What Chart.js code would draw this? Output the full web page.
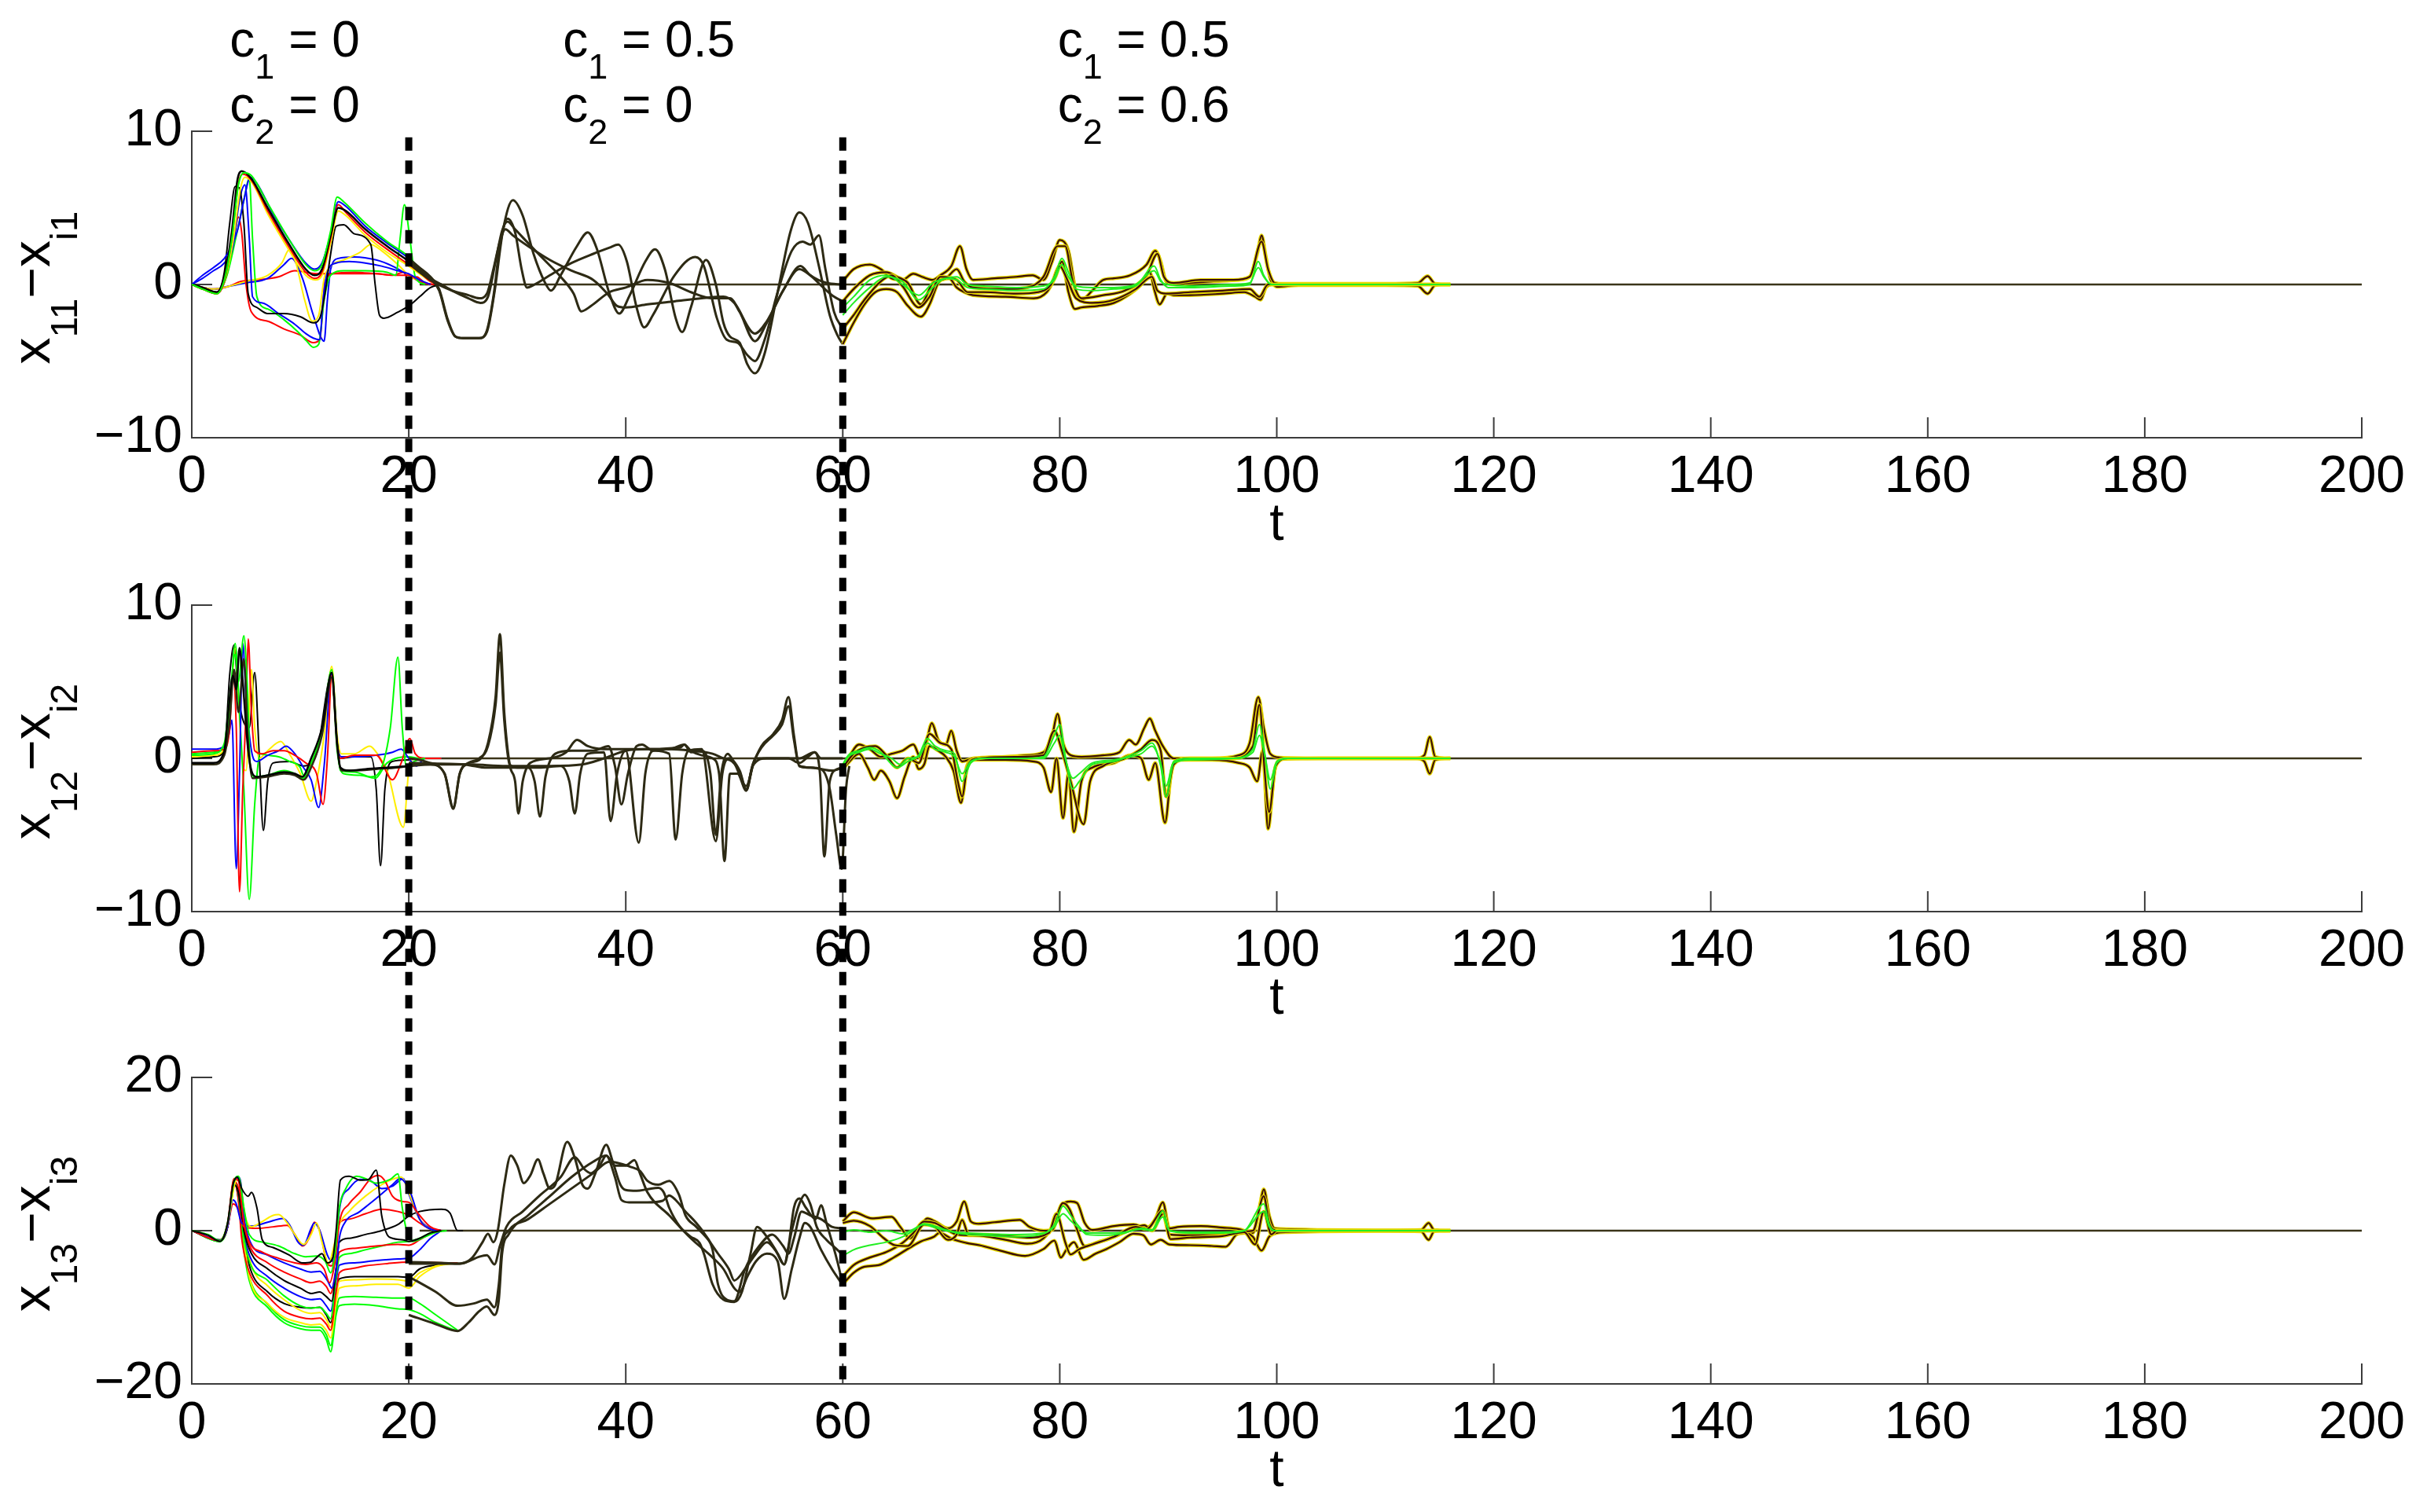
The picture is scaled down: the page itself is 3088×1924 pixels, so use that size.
<!DOCTYPE html>
<html>
<head>
<meta charset="utf-8">
<script src="https://cdn.jsdelivr.net/npm/chart.js@4.4.1/dist/chart.umd.min.js"></script>
<style>
body { margin: 0; background: #fff; }
#fig { position: relative; width: 3088px; height: 1924px; }
canvas { position: absolute; left: 0; }
</style>
</head>
<body>
<div id="fig">
  <canvas id="c1" width="3088" height="702" style="top:0px"></canvas>
  <canvas id="c2" width="3088" height="603" style="top:702px"></canvas>
  <canvas id="c3" width="3088" height="601" style="top:1305px"></canvas>
  <canvas id="overlay" width="3088" height="1924" style="top:0px"></canvas>
</div>
<script>
// ---- axes / annotations ----
const tTicks = [0, 20, 40, 60, 80, 100, 120, 140, 160, 180, 200];
const yTicks12 = [-10, 0, 10];
const yTicks3 = [-20, 0, 20];
const switchTimes = [20, 60];
const annotT = [3.5, 34.2, 79.8];
const annotC1 = ['0', '0.5', '0.5'];
const annotC2 = ['0', '0', '0.6'];
const settled = [[21, 0], [200, 0]];

// ---- x11 - xi1 : c1 = 0, c2 = 0 ----
const p1a_green = [[0,0],[1,-0.3],[2.3,-0.6],[3,0.3],[3.7,3],[4.3,6.5],[4.8,7.3],[5.5,7.1],[7,5.3],[9,2.9],[10.5,1.3],[11.3,0.9],[12,1.3],[12.8,3.5],[13.4,5.7],[14,5.4],[16,4.0],[18,2.8],[20,1.8],[21,1.0],[22,0.3],[23,0]];
const p1a_black = [[0,0],[1,-0.2],[2.3,-0.5],[3,0.5],[3.7,3.5],[4.2,6.8],[4.6,7.4],[5.5,6.9],[7,5.0],[9,2.6],[10.5,1.0],[11.3,0.6],[12,1.0],[12.8,3.2],[13.5,5.0],[14.2,4.8],[16,3.6],[18,2.5],[20,1.5],[21,0.9],[22,0.3],[23,0]];
const p1a_red = [[0,0],[1,-0.3],[2.3,-0.6],[3,0.2],[3.7,3.0],[4.3,6.6],[4.7,7.2],[5.5,6.8],[7,4.8],[9,2.4],[10.5,0.8],[11.3,0.4],[12,0.8],[12.8,3.0],[13.5,5.2],[14.2,4.7],[16,3.4],[18,2.3],[20,1.3],[21,0.8],[22,0.2],[23,0]];
const p1a_yellow = [[0,0],[1,-0.3],[2.3,-0.6],[3,0.2],[3.8,2.8],[4.5,6.3],[4.9,7.0],[5.6,6.6],[7,4.6],[9,2.2],[10.5,0.6],[11.4,0.3],[12,0.6],[12.8,2.7],[13.5,4.8],[14.2,4.5],[16,3.2],[18,2.1],[20,1.2],[21,0.7],[22,0.2],[23,0]];
const p1a_blue = [[0,0],[1,0.6],[2,1.1],[3,1.7],[3.6,2.4],[4.2,3.5],[4.8,5.5],[5.4,7.0],[6,6.6],[7.5,4.6],[9,2.9],[10.5,1.4],[11.3,1.0],[12,1.4],[12.8,3.3],[13.5,5.4],[14.2,5.1],[16,3.8],[18,2.7],[20,1.7],[21,1.0],[22,0.3],[23,0]];
const p1a_black2 = [[0,0],[1,-0.2],[2.3,-0.5],[3,0.8],[3.5,4],[4,6.4],[4.4,6.3],[4.8,4],[5.2,-0.6],[6,-1.5],[7,-1.9],[8.5,-1.9],[10,-2.1],[11.2,-2.5],[11.8,-2.2],[12.3,-0.5],[12.8,2],[13.3,3.8],[14,3.9],[15,3.3],[16.5,2.6],[16.9,0],[17.3,-2.0],[17.7,-2.2],[19,-1.8],[20,-1.4],[21,-0.8],[22,-0.2],[23,0]];
const p1a_blue2 = [[0,0],[1,0.4],[2,0.9],[3,1.4],[3.8,2.5],[4.4,5.5],[4.9,6.5],[5.3,3.0],[5.6,-0.8],[6.5,-1.2],[8,-1.9],[9.5,-2.6],[10.5,-3.2],[11.2,-3.5],[11.8,-3.6],[12.1,-1],[12.5,0.8],[13.3,1.4],[14.5,1.5],[16,1.4],[17.5,1.2],[19,0.9],[20,0.7],[21,0.3],[22,0]];
const p1a_green2 = [[0,0],[1,-0.3],[2.3,-0.6],[3.2,0.5],[4.2,3.5],[4.8,5.5],[5.3,6.9],[5.6,3],[6,-0.8],[7,-1.6],[8.5,-2.3],[9.8,-3.1],[10.6,-3.7],[11.2,-4.1],[11.7,-3.9],[12.2,-1.0],[12.8,0.6],[14,0.9],[16,0.9],[18,0.8],[18.8,0.6],[19.2,3],[19.6,5.2],[20.1,3],[20.6,0.5],[21.5,0]];
const p1a_red2 = [[0,0],[1,-0.3],[2.3,-0.6],[3.3,0.8],[3.9,3],[4.3,4.4],[4.6,3.4],[5,0],[5.5,-1.8],[7,-2.4],[8.5,-2.9],[10,-3.3],[11.2,-3.8],[11.8,-3.6],[12.3,0.2],[13,0.7],[15,0.8],[17,0.7],[19,0.6],[20,0.6],[21,0.2],[22,0]];
const p1a_yellow2 = [[0,0],[2,-0.3],[3.5,-0.1],[5,0.2],[7,0.6],[8.3,1.4],[9,2.3],[9.6,1.4],[10.4,-1.0],[11.1,-2.4],[11.7,-2.0],[12.2,0.4],[12.8,1.2],[14,1.6],[15.5,2.1],[16.5,2.6],[17.5,2.2],[19,1.3],[20,0.6],[21,0.2],[22,0]];
const p1a_blue3 = [[0,0],[2,-0.3],[3.5,-0.1],[5,0.1],[7,0.4],[8.5,1.3],[9.2,1.7],[10.2,0.4],[11.2,-2.0],[12.2,-3.7],[12.5,-1],[12.8,1.0],[13.5,1.7],[15,1.8],[17,1.6],[18.5,1.2],[20,0.6],[21,0.2],[22,0]];
const p1a_red3 = [[0,0],[2,-0.3],[3.5,-0.1],[4.5,0.2],[6,0.3],[8,0.5],[9.5,0.9],[10.5,0.8],[11.5,0.7],[13,0.7],[15,0.7],[17,0.7],[18.5,0.6],[19.5,0.8],[20,0.3],[20.7,0.5],[21.5,0.1],[22.5,0]];

// ---- x11 - xi1 : c1 = 0.5, c2 = 0 ----
const p1b_a = [[20,1.7],[21,1.1],[22,0.5],[22.8,-0.3],[23.6,-2.3],[24.3,-3.4],[25,-3.5],[26.5,-3.5],[27.2,-3.1],[27.9,-0.5],[28.7,3.6],[29.6,5.5],[30.5,4.5],[31.5,2.0],[32.5,0.2],[33.1,-0.4],[34,0.6],[35.5,2.5],[36.5,3.4],[37.3,2.4],[38.5,-0.6],[39.4,-1.9],[40.3,-0.8],[41.8,1.5],[42.7,2.3],[43.6,1.0],[44.6,-2.2],[45.2,-3.1],[46,-1.5],[47.4,1.6],[48.3,0],[49,-2.5],[49.6,-3.4],[50.5,-3.8],[51.2,-5.2],[51.9,-5.8],[52.8,-4.5],[54,-0.5],[55.2,3.5],[56,4.7],[56.8,4.0],[57.8,1.2],[58.8,-2.0],[59.5,-3.3],[60,-3.9]];
const p1b_b = [[20,1.6],[21,1.0],[22,0.4],[22.8,-0.4],[23.6,-2.4],[24.3,-3.4],[25,-3.5],[26.5,-3.5],[27.2,-3.0],[27.8,-0.8],[28.4,2.5],[29.1,4.3],[29.8,3.4],[30.4,1.0],[30.9,-0.2],[31.6,0],[33,0.6],[35,1.4],[37,2.0],[38.5,2.4],[39.3,2.6],[40.1,1.5],[41,-1.5],[41.7,-2.8],[42.5,-2.0],[44.5,0.6],[46.4,1.8],[47.2,1.2],[48.4,-2.2],[49.3,-3.6],[50.3,-3.8],[51.2,-4.6],[51.9,-5.0],[52.8,-3.6],[54,-0.5],[55.3,2.2],[56.3,2.8],[57,2.6],[57.8,3.2],[58.4,1.0],[59.2,-1.8],[60,-2.9]];
const p1b_c = [[20,1.5],[21,0.9],[22,0.4],[23,0],[24,-0.4],[25.5,-0.9],[26.6,-1.2],[27.3,-0.8],[28,1.5],[28.6,3.5],[29.1,4.1],[29.8,3.6],[31,2.7],[32.5,1.6],[34,0.5],[35.2,-0.6],[35.9,-1.75],[36.8,-1.4],[38.5,-0.5],[40,-0.2],[42,0.3],[44,0.1],[46,-0.5],[48,-0.9],[49.6,-0.9],[50.5,-1.8],[51.9,-3.7],[53,-2.5],[54.5,-0.4],[56,1.0],[57,0.6],[58.2,-0.2],[59.2,-0.8],[60,-1.1]];
const p1b_d = [[20,1.4],[21,0.8],[22,0.3],[23,-0.1],[24,-0.4],[25.5,-0.7],[26.5,-0.9],[27.2,-0.6],[27.8,1.0],[28.4,2.8],[28.9,3.6],[29.6,3.2],[31,2.5],[33,1.6],[35,0.9],[37,0.3],[38.3,-0.6],[39.2,-1.4],[40,-1.5],[42,-1.3],[44.5,-1.1],[47,-0.9],[49,-0.8],[50,-1.2],[51.9,-3.2],[53,-2.4],[54.5,-0.4],[56.1,1.2],[57,0.6],[58.5,0.1],[60,0]];

// ---- x11 - xi1 : c1 = 0.5, c2 = 0.6 ----
const p1c_up = [[60,0.2],[61,1.0],[62.5,1.3],[63.5,1.0],[64.5,0.4],[65.5,0.3],[66.5,0.7],[67.3,0.5],[68.3,0.3],[69,0.6],[70,1.2],[70.8,2.5],[71.4,1.0],[72,0.3],[74,0.4],[76,0.5],[77.5,0.6],[78.5,0.3],[79.3,1.5],[80,2.9],[80.8,2.2],[81.5,-0.5],[82,-1.0],[83,-0.4],[84,0.3],[85,0.4],[86.5,0.6],[88,1.3],[88.8,2.2],[89.3,1.5],[89.8,0.2],[90.5,0],[92,0.1],[94,0.2],[96.5,0.3],[97.5,0.5],[98.2,2.0],[98.6,3.2],[99,1.8],[99.5,0.2],[100.5,0.05],[102,0.05],[110,0.05],[113,0.1],[113.9,0.55],[114.6,0.05],[116,0]];
const p1c_low = [[60,-3.9],[61,-2.5],[62,-1.3],[63,-0.5],[64,-0.3],[65,-0.5],[66,-1.4],[67.2,-2.1],[68,-1.3],[68.9,0.2],[69.8,0.4],[70.5,-0.2],[71.2,-0.5],[72,-0.7],[75,-0.8],[77.6,-0.9],[78.8,-0.5],[79.6,0.5],[80.2,1.5],[80.8,-0.5],[81.4,-1.6],[82,-1.5],[83.5,-1.4],[85,-1.2],[86.5,-0.6],[87.5,0.0],[88.3,0.8],[88.7,-0.3],[89.2,-1.3],[89.9,-0.6],[90.5,-0.7],[92,-0.7],[95,-0.6],[97,-0.5],[98,-0.8],[98.5,-1.0],[99,-0.2],[99.6,0],[100,-0.15],[102,-0.05],[110,-0.05],[113,-0.1],[113.9,-0.6],[114.6,-0.05],[116,0]];
const p1c_m1 = [[60,-1.1],[61,-0.3],[62.5,0.6],[64,0.8],[65,0.5],[66,0.1],[67.2,-1.3],[68.3,0.1],[69.5,0.4],[70.5,1.0],[71.2,0.2],[72,-0.2],[75,-0.3],[77,-0.2],[78.5,0.5],[79.8,2.5],[80.5,2.5],[81.2,0.2],[82,-0.9],[84,-0.7],[86,-0.4],[88,0.6],[89,2.0],[89.6,0.5],[90.5,0.1],[93,0.3],[96,0.3],[97.5,0.5],[98.6,2.8],[99.2,1.0],[99.8,0.1],[101,0],[116,0]];
const p1c_m2 = [[60,-2.9],[61,-2.0],[62,-1.0],[63.5,0.2],[64.5,0.6],[65.5,-0.1],[67,-1.5],[68,-0.8],[69,0.5],[70.5,0.3],[71.5,-0.5],[73,-0.5],[76,-0.6],[78,-0.5],[79.2,0],[80,1.2],[80.7,0.3],[81.5,-0.9],[83,-1.2],[85,-1.0],[87,-0.3],[88.5,0.5],[89,-0.4],[89.8,-0.6],[92,-0.5],[95,-0.4],[97.5,-0.3],[98.4,-0.8],[99.2,0],[100,0],[116,0]];
const p1c_g1 = [[60,-2.0],[61,-1.2],[62.5,-0.2],[64,0.5],[65.5,0.2],[67,-1.0],[68.3,-0.2],[69.5,0.4],[70.5,0.3],[71.5,-0.2],[73,-0.3],[76,-0.4],[78.5,-0.3],[79.5,0.5],[80.2,1.7],[80.8,0.8],[81.5,-0.3],[83,-0.4],[85,-0.3],[87,-0.1],[88.7,1.2],[89.3,0.3],[90,-0.2],[92,-0.2],[96,-0.1],[97.5,0],[98.3,1.5],[98.8,0.6],[99.5,0],[101,0],[116,0]];
const p1c_g2 = [[60,-1.5],[61,-0.8],[62.5,0.3],[64,0.6],[65.5,0.0],[67,-0.7],[68.3,0.1],[69.5,0.4],[70.5,0.5],[71.5,0],[73,-0.1],[76,-0.2],[78.5,-0.1],[79.5,0.3],[80.2,1.3],[80.8,0.5],[81.5,-0.1],[83,-0.2],[85,-0.2],[87,0],[88.7,0.9],[89.3,0.2],[90,0],[92,-0.1],[96,0],[97.5,0.1],[98.3,1.1],[98.8,0.5],[99.5,0],[101,0],[116,0]];

// ---- x12 - xi2 : c1 = 0, c2 = 0 ----
const p2a_black = [[0,-0.3],[2,-0.3],[3,0.5],[3.4,3.3],[3.8,5.4],[4.1,4.5],[4.4,7.2],[4.7,5],[5.2,0.5],[5.6,-1.0],[6,-1.2],[7,-1.1],[8.5,-0.9],[9.5,-1.0],[10.2,-1.2],[11,0],[12,2.0],[12.9,5.6],[13.4,1],[13.7,-0.6],[14.5,-0.8],[16,-0.7],[18,-0.6],[20,-0.5]];
const p2a_black3 = [[0,-0.4],[2,-0.4],[3,0.2],[3.5,2.5],[3.9,5.8],[4.3,3],[4.8,6.5],[5.2,1],[5.6,-1.3],[7,-1.2],[8.5,-1.0],[9.5,-1.1],[10.3,-1.4],[11,-0.6],[12,1.5],[12.9,5.3],[13.4,0.8],[13.8,-0.8],[15,-0.8],[17,-0.7],[19,-0.6],[20,-0.5]];
const p2a_green = [[0,0.2],[2,0.3],[3,1.0],[3.5,4.0],[4,6.8],[4.3,5],[4.8,8.0],[5.1,5],[5.4,-0.5],[5.8,-1.2],[7,-1.1],[8.5,-0.8],[9.5,-1.0],[10.2,-1.3],[11,-0.5],[12,1.8],[12.9,5.8],[13.4,1],[13.7,-0.8],[15,-0.9],[16.5,-1.2],[17.5,-0.6],[18.3,2],[19,6.6],[19.4,2],[19.8,-0.6],[20.5,-0.2],[21.5,0]];
const p2a_red = [[0,0.4],[2,0.5],[3,0.6],[3.5,2],[3.8,5.5],[4.1,2],[4.4,-8.7],[4.7,-2],[5,3],[5.2,7.8],[5.5,3],[5.8,0.5],[6.5,0.3],[7.5,0.5],[8.5,0.5],[9.5,0.2],[10.5,-0.3],[11.5,-1.0],[12.1,-3.0],[12.5,0],[12.9,5.4],[13.4,1],[13.7,0],[15,0.2],[17,0.2],[18.5,-1.4],[19.3,-0.3],[20.1,1.3],[20.6,0.3],[21.5,0],[23,0]];
const p2a_blue = [[0,0.6],[2,0.6],[3,0.8],[3.4,1.5],[3.7,2.5],[4.1,-7.2],[4.4,-1],[4.7,7.5],[5,4],[5.5,0.5],[6,-0.2],[7,0.2],[8,0.5],[8.7,0.8],[9.5,0.3],[10.3,-0.6],[11,-1.4],[11.7,-3.2],[12.2,-0.5],[12.9,5.5],[13.4,1],[13.8,0.1],[15,0.1],[17,0.2],[18.5,0.4],[19.3,0.6],[20,0],[20.7,-0.5],[21.5,0],[23,0]];
const p2a_green2 = [[0,0.3],[2,0.4],[3,0.8],[3.5,3],[4,7.5],[4.4,3],[4.8,-2],[5.3,-9.2],[5.8,-3],[6.3,0.3],[7,0.2],[8,0.1],[9,-0.2],[10,-0.6],[10.3,-1.1],[11,-0.3],[12,1.8],[12.9,5.6],[13.4,0.5],[14,-1.0],[15.5,-1.1],[16.9,-1.3],[18,-0.3],[20,0.1],[21,0],[23,0]];
const p2a_yellow = [[0,0.1],[2,0.2],[3,0.6],[3.6,4],[4,7.2],[4.3,4],[4.6,0],[5,-0.8],[5.5,5.8],[5.8,2],[6.2,0],[7,0.5],[8.2,1.1],[9,0.3],[10,-1.0],[11,-2.8],[11.5,-1.5],[12.2,1.5],[12.9,6.0],[13.4,1.5],[13.8,0.3],[15,0.3],[16.4,0.8],[17.2,0.2],[18,-0.8],[19.5,-4.5],[20,-0.8],[20.5,0],[23,0]];
const p2a_black2 = [[0,0],[2,0.1],[3,0.5],[3.5,5.5],[3.9,7.4],[4.3,4],[5.3,2],[5.8,5.6],[6.2,0.5],[6.6,-4.7],[7,-1.5],[7.5,-0.3],[9,-0.2],[10.3,-0.5],[11.5,0.3],[12.9,5.5],[13.4,1],[13.7,0],[15,0.1],[16.5,0.1],[17,-2],[17.4,-7.0],[17.8,-2],[18.5,-0.2],[20,-0.1],[21,0],[23,0]];

// ---- x12 - xi2 : c1 = 0.5, c2 = 0 ----
const p2b_a = [[20,-0.4],[22,-0.4],[23.3,-1],[24.1,-3.3],[24.7,-1],[25.5,-0.3],[26.5,-0.1],[27.3,1],[28,4],[28.4,8.1],[28.8,3],[29.3,-0.4],[29.8,-1.5],[30.1,-3.6],[30.5,-1.5],[31.2,-0.3],[33,0],[34.5,0.4],[35.5,1.2],[36.5,0.8],[38,0.6],[40,0.6],[42,0.6],[44,0.6],[46,0.5],[48,0.3],[49,0],[49.8,-0.2],[50.5,-0.9],[51.1,-2.1],[51.7,-0.5],[52.5,0.8],[53.6,1.6],[54.4,2.5],[55,4.0],[55.5,1.5],[56,-0.5],[57,-0.6],[58,-0.7],[58.8,-2],[59.4,-5],[59.9,-7.2],[60.3,-2],[60.6,-0.5]];
const p2b_b = [[20,-0.5],[22,-0.4],[23.3,-1],[24.1,-3.2],[24.7,-1],[25.5,-0.3],[26.5,0],[27.3,0.8],[28,3.5],[28.4,6.9],[28.8,2.5],[29.3,-0.4],[30,-0.6],[31,-0.6],[31.6,-1.5],[32.1,-3.8],[32.6,-1.2],[33.5,0.3],[35,0.5],[37,0.5],[38.4,0.8],[39,-0.5],[39.6,-3],[40.2,-1],[41,0.8],[41.5,0.9],[42.5,0.5],[44,0.3],[44.6,-5.3],[45.2,-1],[45.8,0.5],[47,0.6],[48.3,-5.4],[48.9,-1],[49.5,0],[50.5,-0.8],[51.1,-2.0],[51.7,-0.4],[52.5,0.7],[53.6,1.5],[54.4,2.2],[55,3.4],[55.5,1.2],[56,-0.5],[57,-0.6],[58,-0.7],[59,-0.8],[60,-0.6]];
const p2b_c = [[20,0],[21,-0.1],[22,-0.3],[23,-0.4],[25,-0.4],[26,-0.5],[27,-0.6],[28,-0.6],[29,-0.6],[32,-0.6],[34,-0.5],[34.8,-1.5],[35.3,-3.6],[35.8,-1],[36.5,0.3],[38,0.4],[38.6,-4.1],[39.2,-1],[40,0.5],[41.2,-5.5],[41.8,-1],[42.5,0.5],[45,0.7],[45.4,0.9],[46,0.5],[47,0.2],[48,0],[48.6,-1],[49.1,-6.7],[49.6,-1],[50.3,-1.0],[51.1,-2.1],[51.7,-0.5],[53,0],[55,0],[56,-0.3],[56.8,0.1],[57.4,0.4],[57.9,-1],[58.3,-6.4],[58.8,-1.5],[59.5,-0.7],[60,-0.6]];
const p2b_d = [[20,-0.3],[26,-0.4],[29,-0.5],[33,-0.5],[36,-0.4],[38,0],[40,0.5],[42,0.6],[44,0.6],[45.4,0.9],[46,0.4],[47,0.5],[47.8,-1],[48.3,-5.0],[48.8,-1],[49.4,0.3],[50,-0.3],[51.1,-1.8],[52,0],[54,0],[56,0],[57.4,0.4],[58,0],[60,0]];

// ---- x12 - xi2 : c1 = 0.5, c2 = 0.6 ----
const p2c_up = [[60,-0.6],[60.5,0],[61.5,0.9],[62.5,0.6],[63.5,0.1],[64.5,0.3],[65.5,0.5],[66.5,0.9],[67.2,0],[67.7,1.0],[68.2,2.3],[68.8,1.2],[69.5,0.9],[70,1.8],[70.5,0.5],[71,-0.2],[72,0],[75,0.1],[77,0.2],[78.5,0.4],[79.3,1.5],[79.8,2.9],[80.3,1.0],[81,0.2],[82,0.1],[84,0.2],[85.5,0.4],[86.4,1.2],[87,0.9],[87.8,2.0],[88.3,2.6],[88.8,1.8],[89.5,0.8],[90.5,0],[94,0],[96.5,0.2],[97.5,1.0],[98.3,4.0],[98.8,2.0],[99.4,0.3],[100.3,0.05],[104,0],[112.8,0],[113.6,0.2],[114.1,1.4],[114.6,0.1],[116,0]];
const p2c_low = [[60,-0.7],[60.5,-0.3],[61.5,0.3],[62.3,-0.6],[62.9,-1.4],[63.5,-0.8],[64.3,-1.5],[65,-2.6],[65.7,-1.2],[66.5,0.1],[67,-0.7],[67.5,-0.4],[68,0.8],[68.8,0.5],[69.5,0.1],[70.2,-0.8],[70.9,-2.9],[71.4,-0.6],[72,-0.1],[75,-0.1],[77.5,-0.2],[78.5,-0.6],[79.2,-2.2],[79.7,0],[80.3,-3.9],[80.8,-1.0],[81.3,-4.8],[82,-1.5],[83,-0.6],[85,-0.3],[86.5,0.2],[87.5,0],[88.2,-1.4],[88.8,-0.3],[89.7,-4.2],[90.3,-0.8],[91,-0.1],[94,-0.1],[96.5,-0.3],[97.5,-0.6],[98.2,-1.5],[98.7,0.5],[99.2,-4.6],[99.8,-0.8],[100.5,-0.05],[104,0],[112.8,0],[113.6,-0.2],[114.1,-1.0],[114.6,-0.1],[116,0]];
const p2c_m = [[60,-0.6],[61,0.3],[62,0.7],[63,0.8],[64,0.2],[65,-0.6],[66,0],[67,-0.3],[68,1.6],[69,1.0],[70,0.6],[70.6,-1.5],[71,-2.5],[71.5,-0.5],[72.5,0],[76,0.1],[78.5,0.2],[79.5,1.8],[80.2,0.5],[81,-1.5],[82.2,-4.3],[82.8,-1.5],[84,-0.5],[86,0],[87.5,0.6],[88.5,1.2],[89.3,0.5],[89.8,-2.5],[90.5,-0.4],[92,0],[96,0],[97.8,0.8],[98.4,3.5],[98.9,-1],[99.3,-3.5],[99.9,-0.5],[101,0],[116,0]];
const p2c_g1 = [[60,-0.4],[60.5,0.2],[61.5,0.5],[62.5,0.7],[63.5,0.4],[64,0],[65,-0.6],[66,-0.2],[67,0.2],[67.8,1.3],[68.5,0.8],[69.5,0.5],[70.3,0.3],[71,-1.5],[71.8,-0.3],[73,0],[77,0],[78.5,0.1],[79.5,1.5],[80,2.2],[80.5,0.2],[81.2,-2.0],[81.8,-1.5],[83,-0.4],[85,-0.2],[86.5,0.2],[87.5,0.5],[88.5,1.0],[89.3,-0.5],[89.8,-2.5],[90.5,-0.3],[92,-0.1],[96,0],[97.8,0.6],[98.4,2.2],[98.9,0.3],[99.4,-2.0],[100,-0.3],[101,0],[116,0]];
const p2c_g2 = [[60,-0.5],[60.5,0.1],[61.5,0.4],[62.5,0.6],[63.5,0.3],[64.5,0],[65.3,-0.4],[66,0],[67,0.1],[67.8,1.0],[68.5,0.6],[69.5,0.4],[70.3,0.1],[71,-1.0],[71.8,-0.2],[73,0],[77,0],[78.5,0],[79.5,1.0],[80,1.5],[80.5,0],[81.2,-1.3],[81.8,-1.0],[83,-0.3],[85,-0.1],[86.5,0.1],[87.5,0.3],[88.5,0.8],[89.3,-0.3],[89.8,-1.8],[90.5,-0.2],[92,0],[96,0],[97.8,0.4],[98.4,1.5],[98.9,0.2],[99.4,-1.4],[100,-0.2],[101,0],[116,0]];

// ---- x13 - xi3 : c1 = 0, c2 = 0 ----
const p3a_black = [[0,0],[1.5,-0.6],[2.6,-1.4],[3.3,1],[3.8,6],[4.2,7],[4.6,5.5],[5.2,4.5],[5.5,5.0],[6,3],[6.5,-1.2],[7.5,-2.2],[9,-3.2],[10.2,-4.2],[11,-4.1],[11.5,-3.5],[12,-3.0],[12.5,-4.2],[13,-3.5],[13.3,0],[13.7,6.6],[14.5,7.1],[15.5,6.6],[16.3,6.7],[17,7.9],[17.5,2],[18,-0.5],[18.5,-1.0],[19.5,-1.2],[20,-1.4],[21,-1.0],[22,-0.3],[23,0]];
const p3a_green = [[0,0],[1.5,-0.5],[2.6,-1.3],[3.3,1],[3.9,6.5],[4.3,7.1],[4.8,3],[5.3,-0.5],[6.5,-1.5],[8,-2.0],[9.5,-3.0],[10.5,-3.4],[11.5,-3.3],[12.3,-4.0],[12.8,-5.5],[13.2,-3],[13.6,3],[14.2,5.5],[15.2,7.1],[16,6.8],[17,6.2],[18.3,6.7],[19,7.4],[19.4,3],[19.8,0],[20.3,-1.4],[21.5,-0.8],[22.5,-0.2],[23.5,0]];
const p3a_red = [[0,0],[2.6,-1.3],[3.3,1],[3.9,6.8],[4.3,6.5],[4.8,1],[5.3,-1.5],[6.5,-2.8],[8,-3.6],[9.5,-4.2],[10.5,-4.4],[11.5,-4.2],[12.2,-5.0],[12.7,-6.8],[13.2,-4],[13.6,1],[14.5,3.5],[15.5,5],[16.5,6.8],[17.2,7.2],[17.8,6.5],[18.5,4.5],[19.5,3.8],[20,3.7],[21,2],[22,0.5],[23,0]];
const p3a_blue = [[0,0],[2.6,-1.2],[3.3,0.8],[3.9,6.5],[4.4,6.9],[4.9,1],[5.5,-1.8],[7,-3.2],[8.5,-4.2],[10,-5.0],[11,-5.4],[11.8,-5.3],[12.5,-6.5],[12.9,-7.5],[13.3,-5],[13.6,-1],[14,0.8],[15.5,2.5],[17,4.2],[18.5,6],[19.2,6.8],[19.8,6],[20.2,4.8],[21,1.5],[22,0.2],[23,0]];
const p3a_yellow = [[0,0],[2.6,-1.2],[3.3,0.8],[4,6.3],[4.4,6.8],[4.9,2],[5.5,0.5],[6.5,1.2],[7.5,2.0],[8,2.1],[8.8,1.0],[9.5,-0.5],[10.3,-1.8],[11,-0.5],[11.5,1.0],[12,-1.5],[12.6,-4.3],[13.1,-2],[13.5,0.5],[14.5,2.5],[16,4.5],[17.5,6.0],[18.5,6.7],[19.3,7.0],[20,5.0],[21,1.5],[22,0.2],[23,0]];
const p3a_blue2 = [[0,0],[2.6,-1.3],[3.3,0.5],[3.8,4],[4.1,3.5],[4.6,1],[5.5,0.6],[7,1.1],[8.4,1.6],[9,0.8],[9.8,-1.5],[10.3,-1.9],[11,0.3],[11.3,1.0],[11.8,0],[12.5,-3.2],[12.9,-4.0],[13.3,-1],[13.7,3.5],[14.5,5.5],[15.5,6.7],[16.5,6.5],[17.5,5.5],[18.5,5.8],[19.5,6.8],[20,4.8],[21,1.5],[22,0.3],[23,0]];
const p3a_red2 = [[0,0],[2.6,-1.3],[3.3,0.5],[3.8,3.5],[4.2,3],[4.8,0.5],[6,0.3],[7.5,0.5],[8.8,0.7],[9.5,-0.5],[10.2,-2],[10.8,-1],[11.3,1.1],[11.8,0],[12.5,-4.3],[12.9,-4.6],[13.3,-1.5],[13.6,1],[14.5,1.5],[16,2.2],[17.5,2.8],[19,2.5],[20,2.0],[21,1.0],[22,0.2],[23,0]];
const p3a_black2 = [[0,0],[2.6,-1.3],[3.3,0.5],[3.9,6],[4.3,5],[4.8,0],[5.5,-3],[7,-5],[8.5,-6.5],[10,-7.5],[11,-8.2],[11.8,-8.0],[12.4,-8.6],[12.9,-9.2],[13.3,-5],[13.6,-1.5],[14.5,-1.0],[16,-0.5],[17.5,0],[19,0.8],[20,1.9],[21,2.5],[23,2.8],[23.8,2.3],[24.5,0],[25,0]];
const p3a_red4 = [[0,0],[2.6,-1.3],[3.3,0.5],[3.9,6.5],[4.3,5.5],[4.8,0.5],[5.4,-2.2],[7,-4.2],[8.5,-5.4],[10,-6.3],[11,-6.8],[11.8,-6.6],[12.4,-7.3],[12.8,-8.2],[13.3,-5],[13.6,-2.8],[15,-2.3],[17,-2.0],[19,-1.8],[20,-1.9],[21,-1.2],[22,-0.4],[23,0]];
const p3a_green2 = [[0,0],[2.6,-1.4],[3.3,0.5],[3.9,6.5],[4.3,5],[4.7,0],[5.3,-4],[7,-6.5],[8.5,-8.5],[10,-9.8],[11,-10.1],[11.8,-10.0],[12.4,-10.8],[12.8,-11.5],[13.3,-6],[13.6,-3.5],[14.5,-3.0],[16,-2.5],[17.5,-2.0],[19,-1.5],[20,-1.4],[21,-1],[22,-0.3],[23,0]];
const p3a_blue3 = [[0,0],[2.6,-1.3],[3.3,0.5],[3.9,6.3],[4.3,4.8],[4.8,-0.5],[5.4,-3.5],[7,-6],[8.5,-7.5],[10,-8.6],[11,-9],[11.8,-8.9],[12.4,-9.8],[12.8,-10.5],[13.3,-6.5],[13.6,-4.5],[15,-4.2],[17,-3.9],[19,-3.7],[20,-3.6],[21,-2.5],[22,-1],[23,0]];
const p3a_red3 = [[0,0],[2.6,-1.3],[3.3,0.5],[3.9,6.2],[4.3,4],[4.6,-1],[5.2,-5],[7,-8.5],[8.5,-10.5],[10,-11.3],[11,-11.5],[11.8,-11.4],[12.4,-12.2],[12.8,-13],[13.3,-8],[13.6,-5.5],[14.5,-5.0],[16,-4.6],[18,-4.3],[20,-4.1],[21,-4.1],[23.5,-4.2],[24.5,-4.2]];
const p3a_yellow3 = [[0,0],[2.6,-1.2],[3.3,0.5],[4,6.1],[4.4,4.8],[4.9,-0.5],[5.5,-4.5],[7,-7.2],[8.5,-9],[10,-10.4],[11,-10.8],[11.8,-10.7],[12.4,-11.6],[12.8,-12.6],[13.3,-8.5],[13.6,-6.6],[15,-6.4],[17,-6.3],[19,-6.4],[20,-6.6],[21,-5.5],[22.5,-4.6],[24.5,-4.2]];
const p3a_yellow2 = [[0,0],[2.6,-1.2],[3.3,0.5],[4,6],[4.4,4.5],[4.8,-1],[5.3,-6],[7,-9.5],[8.5,-11.3],[10,-12],[11,-12.3],[11.8,-12.2],[12.4,-13],[12.8,-14],[13.3,-9.5],[13.6,-7.5],[15,-7.2],[17,-7.0],[19,-7.0],[20,-7.5],[21,-6],[22.5,-4.7],[24,-4.3],[24.5,-4.2]];
const p3a_green4 = [[0,0],[2.6,-1.4],[3.3,0.5],[3.9,6.6],[4.3,4.2],[4.7,-1.2],[5.3,-6],[7,-9.6],[8.5,-11.6],[10,-12.4],[11,-12.6],[11.8,-12.6],[12.4,-13.6],[12.8,-15],[13.3,-10.5],[13.6,-8.8],[15,-8.6],[17,-8.7],[19,-8.8],[20,-8.8],[21,-9.5],[22.5,-11],[24.5,-13.0]];
const p3a_green3 = [[0,0],[2.6,-1.4],[3.3,0.5],[3.9,6.6],[4.3,4],[4.7,-1.5],[5.3,-6.5],[7,-10],[8.5,-12],[10,-12.8],[11,-13],[11.8,-13],[12.4,-14.2],[12.8,-15.8],[13.3,-11],[13.6,-9.8],[15,-9.6],[17,-9.8],[19,-10.2],[20,-10.3],[21,-10.8],[22.5,-12],[24.5,-13.1]];
const p3a_black3 = [[0,0],[2.6,-1.3],[3.3,0.5],[3.9,6.4],[4.3,4.5],[4.8,-1],[5.4,-5],[7,-8],[8.5,-9.5],[10,-10],[11,-10.1],[11.8,-10.0],[12.4,-11],[12.8,-12],[13.3,-8],[13.6,-6.3],[15,-6.0],[17,-6.0],[19,-6.0],[20,-6.1],[21,-5],[22.5,-4.5],[24.5,-4.2]];

// ---- x13 - xi3 : c1 = 0.5, c2 = 0 ----
const p3b_a = [[20,-4.1],[23,-4.2],[24.7,-4.3],[25.8,-3.6],[26.8,-1.5],[27.3,-0.4],[27.8,-1.5],[28.2,0],[28.8,6],[29.4,9.8],[30,8.5],[30.6,6.2],[31.2,7.2],[31.9,9.3],[32.4,7.5],[33,5.5],[33.5,6],[34.6,11.6],[35.3,9.5],[36,6],[36.5,5.5],[37.2,7.5],[38.2,11.2],[38.8,9],[39.5,6],[40,5.3],[41,5.2],[42,5.4],[43,5.6],[43.5,5.0],[44,3],[45,0.5],[46,-0.8],[46.8,-1.6],[47.2,-3],[48,-7],[49,-9],[50,-9.3],[50.7,-8],[51.5,-3],[52.1,0.5],[53,-0.8],[53.8,-2.5],[54.6,-4.4],[55.3,0],[56,3.5],[56.5,4.7],[57,3.5],[57.6,0.5],[58.5,-1.2],[59.5,-2.5],[60,-3.2]];
const p3b_b = [[20,-4.3],[23,-4.3],[24.7,-4.3],[25.5,-4.0],[26.5,-3.4],[27.2,-3.2],[27.9,-4.4],[28.4,-2.0],[29,0.5],[30.5,2.5],[32,4.5],[34,7],[35.3,9.6],[36.2,8],[36.8,7.5],[37.6,8.5],[38.2,9.8],[39,7],[39.6,4],[40.3,3.7],[42,3.7],[43.4,3.9],[44,4.6],[44.6,4.0],[45.5,2.5],[46.5,1],[47.3,-0.5],[48,-2.5],[48.5,-7],[49.3,-9],[50,-9.2],[51,-5],[52.3,-2],[53.5,-0.5],[54.5,-2],[55,-3],[55.5,-1],[56.2,2.5],[57,2],[58,1.5],[59,0.5],[60,0.3]];
const p3b_c = [[20,-11],[22.5,-12.2],[24.5,-13.1],[25.5,-12],[26.5,-10.5],[27.2,-9.9],[27.9,-11.0],[28.3,-9],[28.6,-3],[29.2,-0.5],[31,2],[33,4.5],[35,7],[37,9],[38.2,9.8],[39,8.5],[40,8.5],[40.8,9.2],[41.3,7.5],[42,5],[44,2],[46,-1],[48,-3.5],[49,-5],[50,-7.5],[50.5,-8.0],[51.2,-6],[52,-4],[53,-3],[54,-4],[54.6,-8.9],[55.3,-5],[56,-1],[56.5,1],[57,0.5],[58,-2.5],[59,-5],[60,-7.1]];
const p3b_d = [[20,-6],[22.5,-8],[24.5,-9.8],[26,-9.5],[27.2,-9.0],[27.9,-10.0],[28.3,-7],[28.6,-2],[29.2,0],[31,1.5],[33,3.5],[35,5.5],[37,7.5],[38.5,9],[40.5,8.3],[41.3,7.8],[42,6.5],[43,6.0],[44,6.5],[44.9,4.7],[45.5,2],[46.5,0.5],[47.5,-1],[48.5,-3],[49.5,-5],[50,-6.5],[51,-5],[52,-3],[53,-1.5],[54,-3],[54.6,-4.4],[55,-2],[55.5,3],[56,4.2],[56.6,3],[57.5,1.5],[58,3.3],[58.5,1],[59.5,-4],[60,-7.0]];

// ---- x13 - xi3 : c1 = 0.5, c2 = 0.6 ----
const p3c_up = [[60,1.2],[61,2.4],[62.7,1.6],[64.5,1.8],[65.3,0.5],[66.2,-1.0],[67,0.3],[67.8,1.6],[68.5,1.2],[69.7,0.3],[70.5,1.2],[71.2,3.8],[71.8,1.2],[72.5,0.9],[74,1.1],[76.3,1.4],[77.2,0.5],[78.5,0],[79.3,0.1],[80.2,3.4],[81,3.8],[81.6,3.6],[82.3,1],[83,0.1],[85,0.6],[86.8,0.8],[88,0.4],[88.8,1.5],[89.5,3.7],[90.1,0.3],[91,0.5],[93,0.6],[95,0.4],[96.5,0.2],[97.8,-0.3],[98.4,3],[98.8,5.4],[99.3,2],[99.8,0.3],[101,0.2],[104,0.1],[110,0.05],[113.3,0.1],[114,1.0],[114.5,0.1],[116,0]];
const p3c_low = [[60,-7.0],[61,-5.5],[62,-4.7],[63.3,-4.5],[64.7,-3.5],[66.2,-2.2],[67.2,-1.4],[68.4,-0.8],[68.9,-0.3],[70.1,-1.1],[71.4,-1.6],[72.6,-1.9],[74.5,-2.6],[76.8,-3.3],[78.5,-2.4],[79.5,-1.3],[80.1,-3.5],[80.6,-2.5],[81.3,-1.5],[82.2,-3.8],[83.3,-3.0],[84.3,-2.4],[85.5,-1.5],[86.8,-0.4],[87.7,-0.6],[88.4,-1.8],[89.3,-1.2],[90.1,-1.8],[92,-1.9],[94,-2.0],[95.3,-2.1],[96.3,-0.5],[97,-0.3],[97.8,-0.8],[98.6,-2.6],[99.3,-0.8],[100,-0.3],[101,-0.2],[104,-0.1],[110,-0.05],[113.3,-0.1],[114,-1.2],[114.5,-0.1],[116,0]];
const p3c_m1 = [[60,-6.0],[61,-4.5],[62.5,-3.5],[64,-2.8],[65.5,-1.6],[66.5,-0.3],[67.5,1.2],[68.5,1.0],[69.5,0.2],[70.5,-0.5],[71.4,-0.6],[73,-0.7],[75,-1.2],[77,-1.7],[78.5,-1.0],[79.5,1.0],[80.3,3.6],[80.9,2.8],[81.5,0.5],[82.3,-2.0],[83.5,-1.5],[85,-0.8],[86.5,0.1],[87.8,0.7],[88.5,0],[89.5,2.2],[90.1,-0.5],[92,-0.6],[95,-0.6],[96.8,-0.1],[97.8,0],[98.8,4.5],[99.3,1],[99.8,0.1],[102,0],[116,0]];
const p3c_m2 = [[60,1.0],[61,1.3],[62.5,0.6],[63.8,-1.0],[64.8,-1.9],[66,-2.0],[67.5,0.8],[68.5,0.5],[69.7,-1.2],[70.5,-0.5],[71,1.4],[71.6,-0.5],[73,-0.5],[75,-0.7],[77,-0.9],[79,-0.3],[79.7,2.2],[80.5,-1.5],[81,-3.1],[81.8,-2.4],[83,-1.8],[85,-0.8],[87,0.5],[88,0.2],[89.5,2.6],[90.2,-1.1],[92,-0.9],[95,-0.7],[97,-0.2],[98,-1.8],[98.8,2.5],[99.5,-0.5],[100,0],[116,0]];
const p3c_g1 = [[60,-3.3],[61,-2.5],[62.5,-1.9],[64,-1.5],[65.5,-0.8],[66.5,0],[67.5,0.9],[68.5,0.6],[69.5,0.1],[70.5,-0.3],[71.5,-0.5],[73,-0.6],[76,-0.8],[78.5,-0.4],[79.5,0.8],[80.3,3.2],[81,2.0],[81.8,0.5],[82.5,-0.5],[84,-0.6],[86,-0.3],[87.5,0.3],[88.5,0.1],[89.5,2.6],[90.1,0],[92,-0.3],[95,-0.3],[97,0],[98.8,3.5],[99.3,0.8],[99.8,0],[116,0]];
const p3c_g2 = [[60,-0.2],[61,0.1],[62.5,-0.2],[64,0],[65.5,-0.4],[66.5,0.2],[67.5,0.8],[68.5,0.4],[69.5,0],[70.5,-0.2],[71.5,-0.3],[73,-0.4],[76,-0.5],[78.5,-0.3],[79.5,0.5],[80.3,2.2],[81,1.3],[81.8,0.3],[82.5,-0.3],[84,-0.3],[86,-0.2],[87.5,0.2],[88.5,0],[89.5,1.8],[90.1,0],[92,-0.2],[95,-0.2],[97,0],[98.8,2.5],[99.3,0.5],[99.8,0],[116,0]];

// ---- styling ----
const FONT = '"Liberation Sans", Arial, Helvetica, sans-serif';
const LABEL_FONT = '68px ' + FONT;
const LABEL_SUB = '48px ' + FONT;
const NOTE_FONT = '64px ' + FONT;
const NOTE_SUB = '45px ' + FONT;
const AXIS = '#3c3c3c';
const TICK_LEN = 26;
const K = '#000000', R = '#ff0000', G = '#00ff00', B = '#0000ff', Y = '#ffee00';
const OLIVE = '#2d2a14', MAROON = '#3a0d0d', HALO = '#e6d800', GC = '#22ee22', BASE = '#3b3419';

Chart.defaults.font.family = FONT;

function line(points, color, width) {
    return {
        data: points, borderColor: color, borderWidth: width,
        pointRadius: 0, fill: false, cubicInterpolationMode: 'monotone'
    };
}

// first entry = lowest layer; chart.js paints dataset 0 last, so flip
function layers(list) {
    return list.reverse();
}

function maroonPair(points) {
    return [line(points, HALO, 4.5), line(points, MAROON, 2.2)];
}

function partsWidth(ctx, parts, fonts) {
    let w = 0;
    parts.forEach(([s, sub]) => {
        ctx.font = fonts[sub];
        w += ctx.measureText(s).width;
    });
    return w;
}

function writeParts(ctx, parts, fonts, x, y, drop) {
    let cx = x;
    parts.forEach(([s, sub]) => {
        ctx.font = fonts[sub];
        ctx.fillText(s, cx, y + (sub ? drop : 0));
        cx += ctx.measureText(s).width;
    });
}

function decor(labelParts, withNotes) {
    return {
        id: 'decor',
        beforeDatasetsDraw(chart) {
            const {ctx, chartArea: a, scales: {x, y}} = chart;
            ctx.save();
            ctx.strokeStyle = AXIS;
            ctx.lineWidth = 2;
            ctx.beginPath();
            x.ticks.forEach(tk => {
                const px = x.getPixelForValue(tk.value);
                ctx.moveTo(px, a.bottom);
                ctx.lineTo(px, a.bottom - TICK_LEN);
            });
            y.ticks.forEach(tk => {
                const py = y.getPixelForValue(tk.value);
                ctx.moveTo(a.left, py);
                ctx.lineTo(a.left + TICK_LEN, py);
            });
            ctx.stroke();
            ctx.restore();
        },
        afterDraw(chart) {
            const {ctx, chartArea: a, scales: {x, y}} = chart;
            const labelFonts = [LABEL_FONT, LABEL_SUB];
            ctx.save();
            ctx.fillStyle = '#000';
            ctx.textAlign = 'left';
            ctx.textBaseline = 'alphabetic';
            ctx.translate(a.left - 181, (a.top + a.bottom) / 2 + 4);
            ctx.rotate(-Math.PI / 2);
            writeParts(ctx, labelParts, labelFonts, -partsWidth(ctx, labelParts, labelFonts) / 2, 0, 35);
            ctx.restore();

            if (withNotes) {
                const noteFonts = [NOTE_FONT, NOTE_SUB];
                ctx.save();
                ctx.fillStyle = '#000';
                ctx.textAlign = 'left';
                ctx.textBaseline = 'alphabetic';
                annotT.forEach((t, i) => {
                    const px = x.getPixelForValue(t);
                    writeParts(ctx, [['c', 0], ['1', 1], [' = ' + annotC1[i], 0]], noteFonts, px, y.getPixelForValue(14.87), 28);
                    writeParts(ctx, [['c', 0], ['2', 1], [' = ' + annotC2[i], 0]], noteFonts, px, y.getPixelForValue(10.6), 28);
                });
                ctx.restore();
            }
        }
    };
}

function makeChart(id, datasets, yMin, yMax, yTicks, padTop, labelParts, withNotes) {
    return new Chart(document.getElementById(id), {
        type: 'line',
        data: {datasets: datasets},
        options: {
            responsive: false,
            animation: false,
            devicePixelRatio: 1,
            events: [],
            layout: {padding: {top: padTop, left: 0, right: 83, bottom: 0}},
            plugins: {legend: {display: false}, tooltip: {enabled: false}},
            scales: {
                x: {
                    type: 'linear', min: 0, max: 200,
                    afterBuildTicks: s => { s.ticks = tTicks.map(v => ({value: v})); },
                    afterFit: s => { s.height = 145; },
                    grid: {display: false, drawTicks: false},
                    border: {display: true, color: AXIS, width: 2},
                    ticks: {font: {size: 66, lineHeight: 1}, color: '#000', padding: 18, maxRotation: 0, autoSkip: false},
                    title: {display: true, text: 't', font: {size: 66, lineHeight: 1}, color: '#000', padding: 0}
                },
                y: {
                    min: yMin, max: yMax,
                    afterBuildTicks: s => { s.ticks = yTicks.map(v => ({value: v})); },
                    afterFit: s => { s.width = 244; },
                    grid: {display: false, drawTicks: false},
                    border: {display: true, color: AXIS, width: 2},
                    ticks: {
                        font: {size: 66, lineHeight: 1}, color: '#000', padding: 12,
                        callback: v => (v < 0 ? '\u2212' + Math.abs(v) : String(v))
                    }
                }
            }
        },
        plugins: [decor(labelParts, withNotes)]
    });
}

const set1 = layers([
    line(settled, BASE, 2.5),
    line(p1a_red3, R, 2), line(p1a_blue3, B, 2), line(p1a_yellow2, Y, 2), line(p1a_red2, R, 2),
    line(p1a_green2, G, 2), line(p1a_blue2, B, 2), line(p1a_black2, K, 2), line(p1a_blue, B, 2),
    line(p1a_yellow, Y, 2), line(p1a_red, R, 2), line(p1a_black, K, 2.5), line(p1a_green, G, 2),
    line(p1b_a, OLIVE, 3), line(p1b_b, OLIVE, 3), line(p1b_c, OLIVE, 3), line(p1b_d, OLIVE, 3),
    ...maroonPair(p1c_up), ...maroonPair(p1c_low), ...maroonPair(p1c_m1), ...maroonPair(p1c_m2),
    line(p1c_g1, GC, 2), line(p1c_g2, GC, 2)
]);

const set2 = layers([
    line(settled, BASE, 2.5),
    line(p2a_black2, K, 2), line(p2a_yellow, Y, 2), line(p2a_green2, G, 2), line(p2a_blue, B, 2),
    line(p2a_red, R, 2), line(p2a_green, G, 2), line(p2a_black3, OLIVE, 2.5), line(p2a_black, K, 2.5),
    line(p2b_a, OLIVE, 3), line(p2b_b, OLIVE, 3), line(p2b_c, OLIVE, 3), line(p2b_d, OLIVE, 3),
    ...maroonPair(p2c_up), ...maroonPair(p2c_low), ...maroonPair(p2c_m),
    line(p2c_g1, GC, 2), line(p2c_g2, GC, 2)
]);

const set3 = layers([
    line(settled, BASE, 2.5),
    line(p3a_black3, K, 2), line(p3a_green3, G, 2), line(p3a_green4, G, 2), line(p3a_yellow2, Y, 2),
    line(p3a_yellow3, Y, 2), line(p3a_red3, R, 2), line(p3a_blue3, B, 2), line(p3a_green2, G, 2),
    line(p3a_red4, R, 2), line(p3a_black2, K, 2), line(p3a_red2, R, 2), line(p3a_blue2, B, 2),
    line(p3a_yellow, Y, 2), line(p3a_blue, B, 2), line(p3a_red, R, 2), line(p3a_green, G, 2), line(p3a_black, K, 2),
    line(p3b_a, OLIVE, 3), line(p3b_b, OLIVE, 3), line(p3b_c, OLIVE, 3), line(p3b_d, OLIVE, 3),
    ...maroonPair(p3c_up), ...maroonPair(p3c_low), ...maroonPair(p3c_m1), ...maroonPair(p3c_m2),
    line(p3c_g1, GC, 2), line(p3c_g2, GC, 2)
]);

const charts = [
    makeChart('c1', set1, -10, 10, yTicks12, 167, [['x', 0], ['11', 1], ['\u2212x', 0], ['i1', 1]], true),
    makeChart('c2', set2, -10, 10, yTicks12, 68, [['x', 0], ['12', 1], ['\u2212x', 0], ['i2', 1]], false),
    makeChart('c3', set3, -20, 20, yTicks3, 66, [['x', 0], ['13', 1], ['\u2212x', 0], ['i3', 1]], false)
];

// dashed switch markers run through all three panels
const tops = [0, 702, 1305];
const ov = document.getElementById('overlay').getContext('2d');
ov.strokeStyle = '#000';
ov.lineWidth = 9;
ov.setLineDash([17, 12.5]);
switchTimes.forEach(t => {
    const px = charts[0].scales.x.getPixelForValue(t);
    const yTop = charts[0].scales.y.getPixelForValue(9.6) + tops[0];
    const yBot = charts[2].chartArea.bottom + tops[2];
    ov.beginPath();
    ov.moveTo(px, yTop);
    ov.lineTo(px, yBot);
    ov.stroke();
});
</script>
</body>
</html>
